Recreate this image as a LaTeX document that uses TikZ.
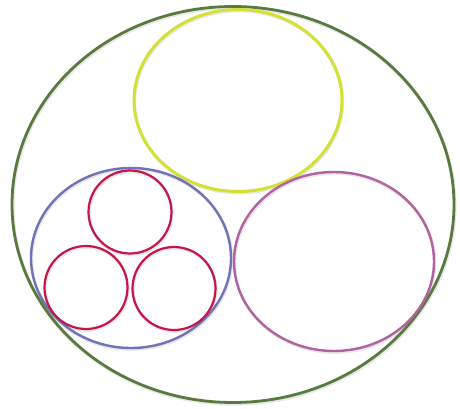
\documentclass[tikz,border=0pt]{standalone}
\definecolor{cgreen}{RGB}{88,122,62}
\definecolor{cyellow}{RGB}{212,224,52}
\definecolor{cblue}{RGB}{112,116,182}
\definecolor{cpink}{RGB}{178,98,160}
\definecolor{cred}{RGB}{196,22,72}
\tikzset{
  ring/.style={draw, line width=#1},
  ring/.default=2.4pt,
  shade ring/.style={draw=black!25, line width=#1, opacity=0.35, shift={(0.8,1.4)}},
  shade ring/.default=3pt
}
\begin{document}
\begin{tikzpicture}[x=1pt,y=-1pt]
\useasboundingbox (0,0) rectangle (460,409);
\fill[white] (0,0) rectangle (460,409);
% shadows
\draw[shade ring=3.5pt] (233,204.5) ellipse [x radius=221, y radius=198];
\draw[shade ring] (238,100.5) ellipse [x radius=104, y radius=91];
\draw[shade ring] (131,258) ellipse [x radius=100, y radius=90];
\draw[shade ring] (334,261.5) ellipse [x radius=100, y radius=89.5];
\draw[shade ring] (130,212) circle [radius=41.5];
\draw[shade ring] (86,287.5) circle [radius=41.5];
\draw[shade ring] (174,288.5) circle [radius=41.5];
% rings
\draw[ring=2.8pt, cgreen] (233,204.5) ellipse [x radius=221, y radius=198];
\draw[ring=3pt, cyellow] (238,100.5) ellipse [x radius=104, y radius=91];
\draw[ring, cblue] (131,258) ellipse [x radius=100, y radius=90];
\draw[ring, cpink] (334,261.5) ellipse [x radius=100, y radius=89.5];
\draw[ring=2.2pt, cred] (130,212) circle [radius=41.5];
\draw[ring=2.2pt, cred] (86,287.5) circle [radius=41.5];
\draw[ring=2.2pt, cred] (174,288.5) circle [radius=41.5];
\end{tikzpicture}
\end{document}
